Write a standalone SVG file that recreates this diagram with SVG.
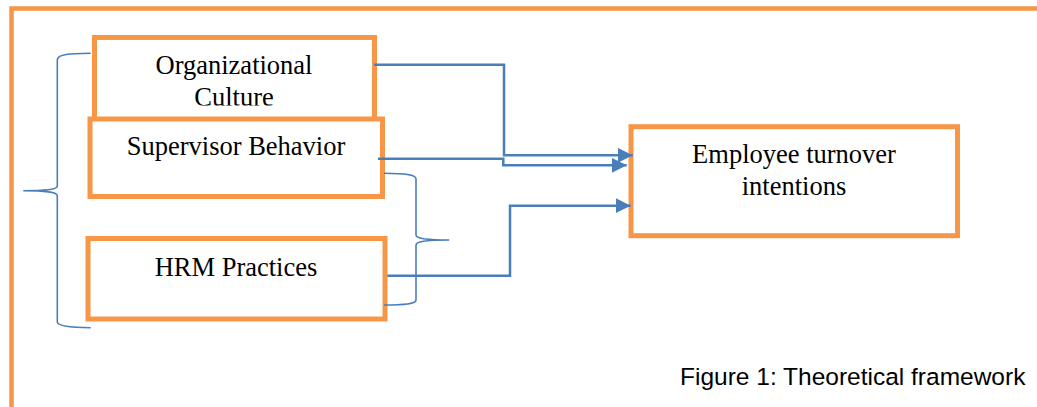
<svg xmlns="http://www.w3.org/2000/svg" width="1037" height="407" viewBox="0 0 1037 407">
<style>
.box{fill:#fff;stroke:#F79646;stroke-width:5}
.frame{fill:none;stroke:#F79646;stroke-width:4.5}
.lbl{font-family:"Liberation Serif","Times New Roman",serif;font-size:26.5px;fill:#000;text-anchor:middle}
.cap{font-family:"Liberation Sans",Arial,sans-serif;font-size:24.5px;fill:#000}
.conn{fill:none;stroke:#4A7EBB;stroke-width:2.5}
.brace{fill:none;stroke:#4A7EBB;stroke-width:1.6}
</style>
<defs>
<marker id="arr" markerUnits="userSpaceOnUse" markerWidth="16" markerHeight="16" refX="15" refY="7.5" orient="auto">
<path d="M0,0 L15,7.5 L0,15 z" fill="#4A7EBB"/>
</marker>
<clipPath id="clip1"><rect x="95" y="38" width="280" height="67.5"/></clipPath>
</defs>
<path class="frame" d="M11.5,407 L11.5,8.5 L1037,8.5"/>
<g id="node-org">
<rect class="box" x="94.5" y="37.5" width="280" height="82"/>
<g clip-path="url(#clip1)">
<text class="lbl" x="234" y="74">Organizational</text>
<text class="lbl" x="234" y="105.5">Culture</text>
</g>
</g>
<g id="node-sup">
<rect class="box" x="90" y="119" width="292.5" height="77.5"/>
<text class="lbl" x="236" y="155">Supervisor Behavior</text>
</g>
<g id="node-hrm">
<rect class="box" x="88" y="238.5" width="297" height="80.5"/>
<text class="lbl" x="236" y="276">HRM Practices</text>
</g>
<g id="node-eti">
<rect class="box" x="631" y="126.7" width="326.5" height="109"/>
<text class="lbl" x="794" y="163">Employee turnover</text>
<text class="lbl" x="794" y="195">intentions</text>
</g>
<g id="connectors">
<path class="conn" d="M374,64.7 L504,64.7 L504,155.3 L632.7,155.3" marker-end="url(#arr)"/>
<path class="conn" d="M378,158.7 L503.3,158.7 L503.3,165.3 L626.7,165.3" marker-end="url(#arr)"/>
<path class="conn" d="M387.3,275.7 L510,275.7 L510,205.7 L630.7,205.7" marker-end="url(#arr)"/>
<path class="brace" d="M90.7,53.3 C70,53.5 57.3,54 57.3,60 L57.3,186 C57.3,189 50,190.7 23.3,190.7 C50,190.7 57.3,192.5 57.3,196 L57.3,322 C57.3,326 70,327.5 90.7,327.7"/>
<path class="brace" d="M384,173.3 C405,173.5 416,174.5 416,179 L416,235 C416,238.5 425,240 449.3,240 C425,240 416,241.5 416,245 L416,300 C416,304 405,305 384,305"/>
</g>
<text class="cap" x="680" y="385">Figure 1: Theoretical framework</text>
</svg>
